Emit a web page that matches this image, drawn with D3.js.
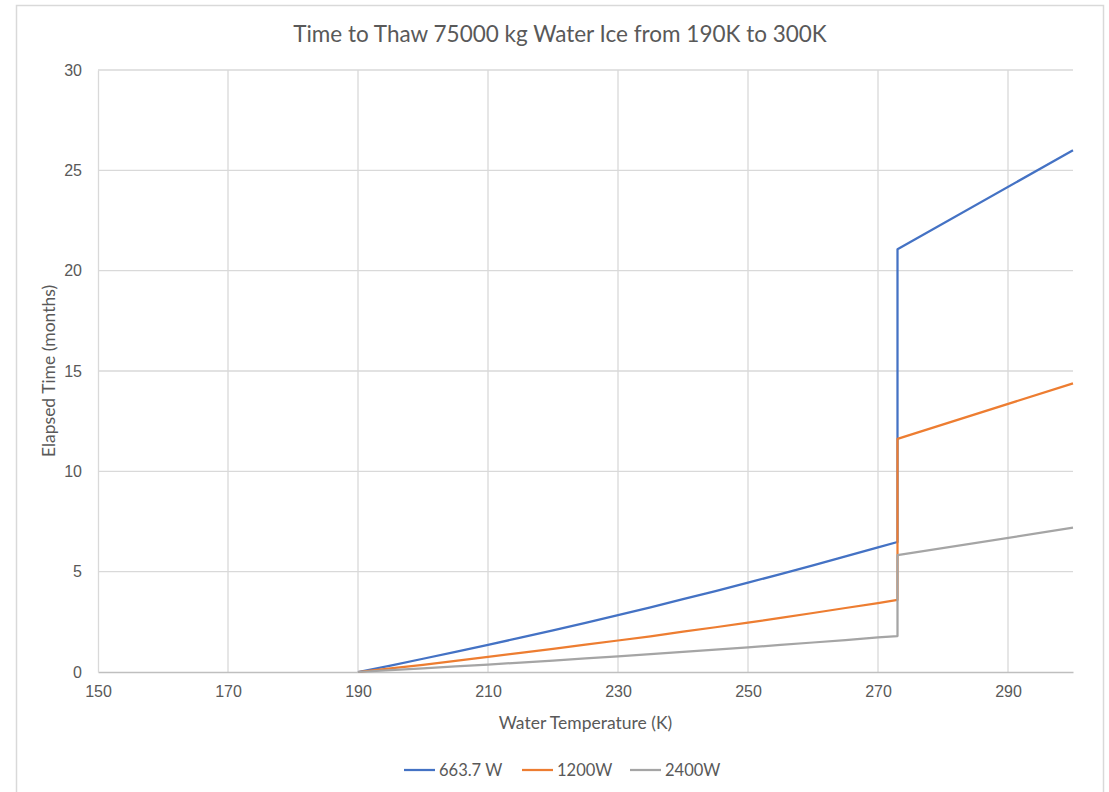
<!DOCTYPE html>
<html><head><meta charset="utf-8">
<script src="https://cdn.jsdelivr.net/npm/d3@7"></script>
<style>body{margin:0;background:#fff;} svg{display:block;font-family:Lato,"Open Sans",sans-serif;}</style>
</head><body>
<svg id="chart" width="1109" height="792"></svg>
<script>
const xTicks = [150,170,190,210,230,250,270,290];
const yTicks = [0,5,10,15,20,25,30];
const temps = [190,195,200,205,210,215,220,225,230,235,240,245,250,255,260,265,270,273,273,300];
const blueVals = [0,0.32,0.66,1.00,1.35,1.71,2.07,2.45,2.83,3.22,3.63,4.03,4.45,4.88,5.31,5.76,6.21,6.48,21.07,26.0];
const orangeVals = [0,0.18,0.36,0.55,0.75,0.95,1.15,1.36,1.57,1.78,2.01,2.23,2.46,2.70,2.94,3.19,3.43,3.59,11.62,14.38];
const grayVals = [0,0.09,0.18,0.28,0.37,0.47,0.57,0.68,0.78,0.89,1.00,1.11,1.23,1.35,1.47,1.59,1.72,1.79,5.82,7.19];
const seriesNames = ["663.7 W","1200W","2400W"];
const seriesColors = ["#4472C4","#ED7D31","#A5A5A5"];
const seriesVals = [blueVals, orangeVals, grayVals];

const svg = d3.select("#chart");
const W = 1109, H = 792;
const m = {left:98, right:36, top:70, bottom:120};
const x = d3.scaleLinear().domain([150,300]).range([m.left, W-m.right]);
const y = d3.scaleLinear().domain([0,30]).range([H-m.bottom, m.top]);

svg.append("rect").attr("x",16.5).attr("y",5.5).attr("width",1087).attr("height",H+10)
  .attr("fill","#fff").attr("stroke","#d9d9d9").attr("stroke-width",1.5);

// gridlines
svg.append("g").selectAll("line").data(yTicks.filter(d=>d>0)).join("line")
  .attr("x1",x(150)).attr("x2",x(300)).attr("y1",d=>y(d)).attr("y2",d=>y(d))
  .attr("stroke","#d9d9d9").attr("stroke-width",1.3);
svg.append("g").selectAll("line").data(xTicks.filter(d=>d>150)).join("line")
  .attr("x1",d=>x(d)).attr("x2",d=>x(d)).attr("y1",y(0)).attr("y2",y(30))
  .attr("stroke","#d9d9d9").attr("stroke-width",1.3);

// axes
const xAxis = svg.append("g").attr("transform",`translate(0,${y(0)})`)
  .call(d3.axisBottom(x).tickValues(xTicks).tickSize(0).tickPadding(14));
xAxis.select(".domain").attr("stroke","#bfbfbf").attr("stroke-width",1.3);
xAxis.selectAll("text").attr("fill","#595959").style("font-size","16px");

const yAxis = svg.append("g").attr("transform",`translate(${x(150)},0)`)
  .call(d3.axisLeft(y).tickValues(yTicks).tickSize(0).tickPadding(16));
yAxis.select(".domain").attr("stroke","#d9d9d9").attr("stroke-width",1.3);
yAxis.selectAll("text").attr("fill","#595959").style("font-size","16px");

// lines
const line = d3.line().x((d,i)=>x(temps[i])).y(d=>y(d));
seriesVals.forEach((vals,k)=>{
  svg.append("path").datum(vals).attr("d",line).attr("fill","none")
    .attr("stroke",seriesColors[k]).attr("stroke-width",2.25).attr("stroke-linejoin","round");
});

// title
svg.append("text").attr("x",560).attr("y",42).attr("text-anchor","middle")
  .attr("fill","#595959").style("font-size","22.5px").text("Time to Thaw 75000 kg Water Ice from 190K to 300K");
svg.append("text").attr("x",(x(150)+x(300))/2).attr("y",729).attr("text-anchor","middle")
  .attr("fill","#595959").style("font-size","17.5px").text("Water Temperature (K)");
svg.append("text").attr("transform",`translate(55,${(y(0)+y(30))/2}) rotate(-90)`).attr("text-anchor","middle")
  .attr("fill","#595959").style("font-size","17.5px").text("Elapsed Time (months)");

// legend
const legX = [404,522,630];
const lg = svg.append("g");
seriesNames.forEach((n,k)=>{
  lg.append("line").attr("x1",legX[k]).attr("x2",legX[k]+31).attr("y1",770).attr("y2",770)
    .attr("stroke",seriesColors[k]).attr("stroke-width",2.25);
  lg.append("text").attr("x",legX[k]+35).attr("y",776).attr("fill","#595959")
    .style("font-size","16.5px").text(n);
});
</script>
</body></html>
